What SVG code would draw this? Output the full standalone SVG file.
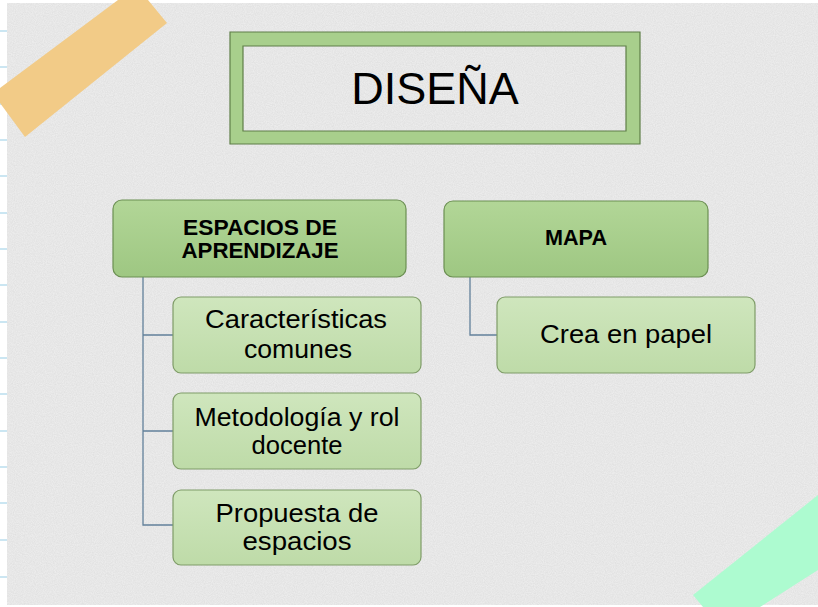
<svg xmlns="http://www.w3.org/2000/svg" width="818" height="607" viewBox="0 0 818 607">
<defs>
<style>
.t{font-family:"Liberation Sans",Arial,sans-serif;fill:#000;text-anchor:middle}
.b{font-weight:bold;font-size:22.5px}
.n{font-size:25.5px}
.main{stroke:#6b8f52;stroke-width:1.2}
.sub{stroke:#7f9c68;stroke-width:1.2}
.conn{fill:none;stroke:#62809a;stroke-width:1.3}
.rule{stroke:#a9d6ea;stroke-width:1.2}
</style>
<linearGradient id="gm" x1="0" y1="0" x2="0" y2="1">
<stop offset="0" stop-color="#b2d697"/>
<stop offset="1" stop-color="#9ec782"/>
</linearGradient>
<linearGradient id="gs" x1="0" y1="0" x2="0" y2="1">
<stop offset="0" stop-color="#cfe6bd"/>
<stop offset="1" stop-color="#bedba8"/>
</linearGradient>
<filter id="noise" x="0" y="0" width="100%" height="100%">
<feTurbulence type="fractalNoise" baseFrequency="0.9" numOctaves="2" seed="3" result="n"/>
<feColorMatrix in="n" type="matrix" values="0 0 0 0 0.55  0 0 0 0 0.55  0 0 0 0 0.55  0 0 0 0.45 -0.1"/>
</filter>
</defs>
<rect width="818" height="607" fill="#ffffff"/>
<g id="rules">
<line class="rule" x1="0" y1="31" x2="7" y2="31"/>
<line class="rule" x1="0" y1="67" x2="7" y2="67"/>
<line class="rule" x1="0" y1="104" x2="7" y2="104"/>
<line class="rule" x1="0" y1="140" x2="7" y2="140"/>
<line class="rule" x1="0" y1="176" x2="7" y2="176"/>
<line class="rule" x1="0" y1="213" x2="7" y2="213"/>
<line class="rule" x1="0" y1="249" x2="7" y2="249"/>
<line class="rule" x1="0" y1="285" x2="7" y2="285"/>
<line class="rule" x1="0" y1="322" x2="7" y2="322"/>
<line class="rule" x1="0" y1="358" x2="7" y2="358"/>
<line class="rule" x1="0" y1="394" x2="7" y2="394"/>
<line class="rule" x1="0" y1="431" x2="7" y2="431"/>
<line class="rule" x1="0" y1="467" x2="7" y2="467"/>
<line class="rule" x1="0" y1="503" x2="7" y2="503"/>
<line class="rule" x1="0" y1="540" x2="7" y2="540"/>
<line class="rule" x1="0" y1="577" x2="7" y2="577"/>
</g>
<rect x="7" y="3" width="811" height="602" fill="#ececec"/>
<rect x="7" y="3" width="811" height="602" filter="url(#noise)"/>
<polygon points="0,88 118,0 148,0 167,23 25,137 0,103" fill="#f2cb87"/>
<polygon points="693,595 818,495 818,570 760,607 703,607" fill="#adfbd0"/>
<g id="connectors">
<path class="conn" d="M143,277 V525 H173 M143,335 H173 M143,431 H173"/>
<path class="conn" d="M470,277 V335 H497"/>
</g>
<g id="title">
<path d="M230,32 H640 V144 H230 Z M243,46 V131 H626 V46 Z" fill="#a8cf8c" fill-rule="evenodd" stroke="#5f7f48" stroke-width="1.2"/>
<text class="t" x="435" y="104" style="font-size:45px">DISEÑA</text>
</g>
<g id="espacios">
<rect class="main" x="113" y="200" width="293" height="77" rx="9" style="fill:url(#gm)"/>
<text class="t b" x="260" y="235" textLength="154" lengthAdjust="spacingAndGlyphs">ESPACIOS DE</text>
<text class="t b" x="260" y="258" textLength="157" lengthAdjust="spacingAndGlyphs">APRENDIZAJE</text>
</g>
<g id="mapa">
<rect class="main" x="444" y="201" width="264" height="76" rx="9" style="fill:url(#gm)"/>
<text class="t b" x="576" y="245" textLength="62" lengthAdjust="spacingAndGlyphs">MAPA</text>
</g>
<g id="caracteristicas">
<rect class="sub" x="173" y="297" width="248" height="76" rx="8" style="fill:url(#gs)"/>
<text class="t n" x="296" y="328" textLength="182" lengthAdjust="spacingAndGlyphs">Características</text>
<text class="t n" x="298" y="358" textLength="108" lengthAdjust="spacingAndGlyphs">comunes</text>
</g>
<g id="metodologia">
<rect class="sub" x="173" y="393" width="248" height="76" rx="8" style="fill:url(#gs)"/>
<text class="t n" x="297" y="426" textLength="205" lengthAdjust="spacingAndGlyphs">Metodología y rol</text>
<text class="t n" x="297" y="454" textLength="91" lengthAdjust="spacingAndGlyphs">docente</text>
</g>
<g id="propuesta">
<rect class="sub" x="173" y="490" width="248" height="75" rx="8" style="fill:url(#gs)"/>
<text class="t n" x="297" y="522" textLength="163" lengthAdjust="spacingAndGlyphs">Propuesta de</text>
<text class="t n" x="297" y="550" textLength="109" lengthAdjust="spacingAndGlyphs">espacios</text>
</g>
<g id="crea">
<rect class="sub" x="497" y="297" width="258" height="76" rx="8" style="fill:url(#gs)"/>
<text class="t n" x="626" y="343" textLength="172" lengthAdjust="spacingAndGlyphs">Crea en papel</text>
</g>
</svg>
